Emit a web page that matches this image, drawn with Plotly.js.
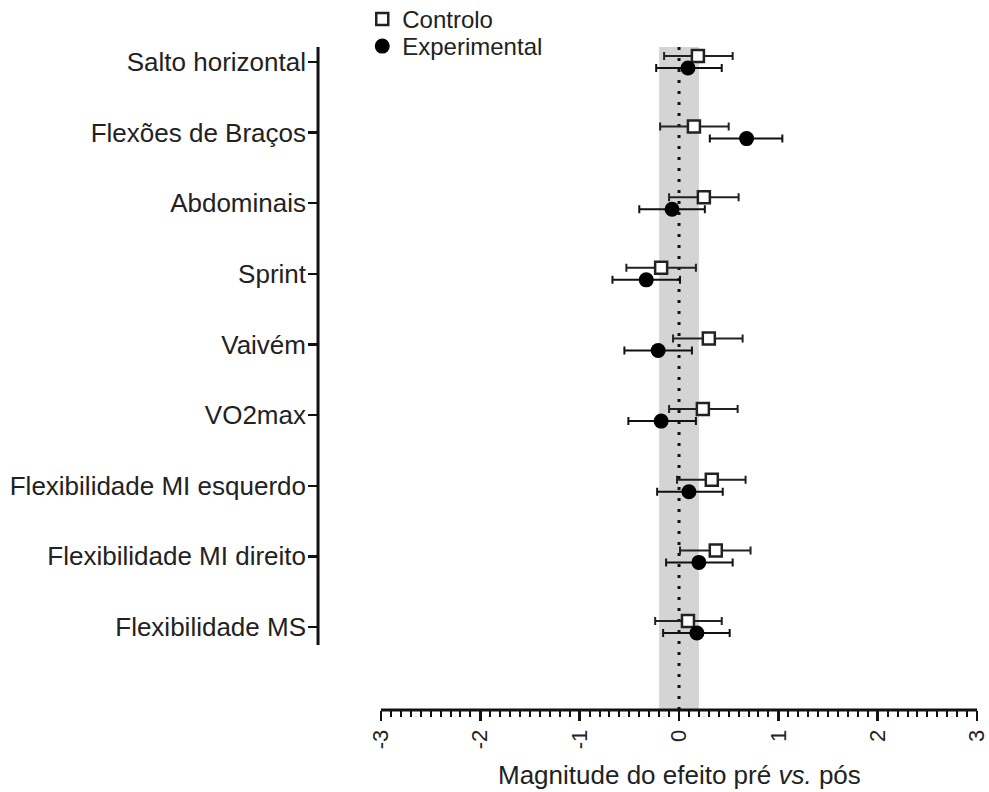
<!DOCTYPE html>
<html>
<head>
<meta charset="utf-8">
<script src="https://cdn.plot.ly/plotly-3.0.1.min.js"></script>
<style>html,body{margin:0;padding:0;background:#fff;}#chart{width:989px;height:792px;}</style>
</head>
<body>
<div id="chart"></div>
<script>
// ---- data ----
var categories = ['Salto horizontal','Flexões de Braços','Abdominais','Sprint','Vaivém','VO2max','Flexibilidade MI esquerdo','Flexibilidade MI direito','Flexibilidade MS'];
var controlo     = [0.19, 0.15, 0.25, -0.18, 0.30, 0.24, 0.33, 0.37, 0.09];
var controloLo   = [-0.15, -0.19, -0.10, -0.53, -0.06, -0.10, -0.02, 0.01, -0.24];
var controloHi   = [0.54, 0.50, 0.60, 0.17, 0.64, 0.59, 0.67, 0.72, 0.43];
var experimental = [0.09, 0.68, -0.07, -0.33, -0.21, -0.18, 0.10, 0.20, 0.18];
var expLo        = [-0.23, 0.31, -0.40, -0.67, -0.55, -0.51, -0.22, -0.13, -0.16];
var expHi        = [0.43, 1.04, 0.26, 0.01, 0.13, 0.17, 0.44, 0.54, 0.51];
var xTickVals = [-3, -2, -1, 0, 1, 2, 3];
var xTickText = ['-3', '-2', '-1', '0', '1', '2', '3'];
var seriesNames = ['Controlo', 'Experimental'];
var bandLimits = [-0.2, 0.2];

// ---- layout helpers ----
var FONT = '"Liberation Sans", Arial, sans-serif';
var catIdx = categories.map(function(_, i){ return i; });
var OFF = 0.085;
var XRANGE = [-3.735, 3.05];
var minorVals = [];
for (var k = -30; k <= 30; k++) { if (k % 10 !== 0) minorVals.push(k / 10); }
function diff(a, b){ return a.map(function(v, i){ return v - b[i]; }); }

var traces = [
  {
    type: 'scatter', mode: 'markers', name: seriesNames[0], legend: 'legend',
    x: controlo, y: catIdx.map(function(i){ return i - OFF; }),
    error_x: {type: 'data', symmetric: false, array: diff(controloHi, controlo), arrayminus: diff(controlo, controloLo), color: '#222', thickness: 2, width: 4},
    marker: {symbol: 'square', size: 12, color: '#fff', line: {color: '#222', width: 2.5}}
  },
  {
    type: 'scatter', mode: 'markers', name: seriesNames[1], legend: 'legend2',
    x: experimental, y: catIdx.map(function(i){ return i + OFF; }),
    error_x: {type: 'data', symmetric: false, array: diff(expHi, experimental), arrayminus: diff(experimental, expLo), color: '#111', thickness: 2, width: 4},
    marker: {symbol: 'circle', size: 15, color: '#000'}
  }
];

var legendStyle = {xanchor: 'left', yanchor: 'top', font: {size: 24, color: '#222', family: FONT}, bgcolor: 'rgba(0,0,0,0)'};

var layout = {
  width: 989, height: 792,
  margin: {l: 308, r: 7, t: 47, b: 82, autoexpand: false},
  paper_bgcolor: '#fff', plot_bgcolor: '#fff',
  font: {family: FONT, color: '#222'},
  showlegend: true,
  legend: Object.assign({x: 0.0805, y: 1.0754}, legendStyle),
  legend2: Object.assign({x: 0.0805, y: 1.0347}, legendStyle),
  xaxis: {
    range: XRANGE, showgrid: false, zeroline: false, showline: false,
    tickmode: 'array', tickvals: xTickVals, ticktext: xTickText,
    ticks: 'outside', ticklen: 10, tickwidth: 2.5, tickcolor: '#111',
    ticklabeloverflow: 'allow',
    tickangle: -90, tickfont: {size: 22, family: FONT, color: '#222'},
    minor: {tickmode: 'array', tickvals: minorVals, ticks: 'outside', ticklen: 6, tickwidth: 2, tickcolor: '#111'}
  },
  yaxis: {
    range: [9.175, -0.212], showgrid: false, zeroline: false, showline: false,
    tickmode: 'array', tickvals: catIdx, ticktext: categories,
    ticks: 'inside', ticklen: 9, tickwidth: 2.5, tickcolor: '#111',
    ticklabelstandoff: 1,
    tickfont: {size: 26, family: FONT, color: '#222'}
  },
  shapes: [
    {type: 'rect', xref: 'x', yref: 'paper', x0: bandLimits[0], x1: bandLimits[1], y0: 0, y1: 1, fillcolor: '#d4d4d4', line: {width: 0}, layer: 'below'},
    {type: 'line', xref: 'x', yref: 'paper', x0: 0, x1: 0, y0: 0, y1: 1, line: {color: '#111', width: 3, dash: '3px,8px'}, layer: 'below'},
    {type: 'line', xref: 'x', yref: 'paper', x0: xTickVals[0], x1: xTickVals[xTickVals.length - 1], y0: 0, y1: 0, line: {color: '#111', width: 3}},
    {type: 'line', xref: 'x', yref: 'y', x0: -3.634, x1: -3.634, y0: -0.212, y1: 8.255, line: {color: '#111', width: 3}}
  ],
  annotations: [
    {xref: 'x', yref: 'paper', x: 0, y: -0.098, yanchor: 'middle', xanchor: 'center', showarrow: false,
     text: 'Magnitude do efeito pré <i>vs.</i> pós', font: {size: 26, family: FONT, color: '#222'}}
  ]
};

Plotly.newPlot('chart', traces, layout, {displayModeBar: false, staticPlot: true});
</script>
</body>
</html>
